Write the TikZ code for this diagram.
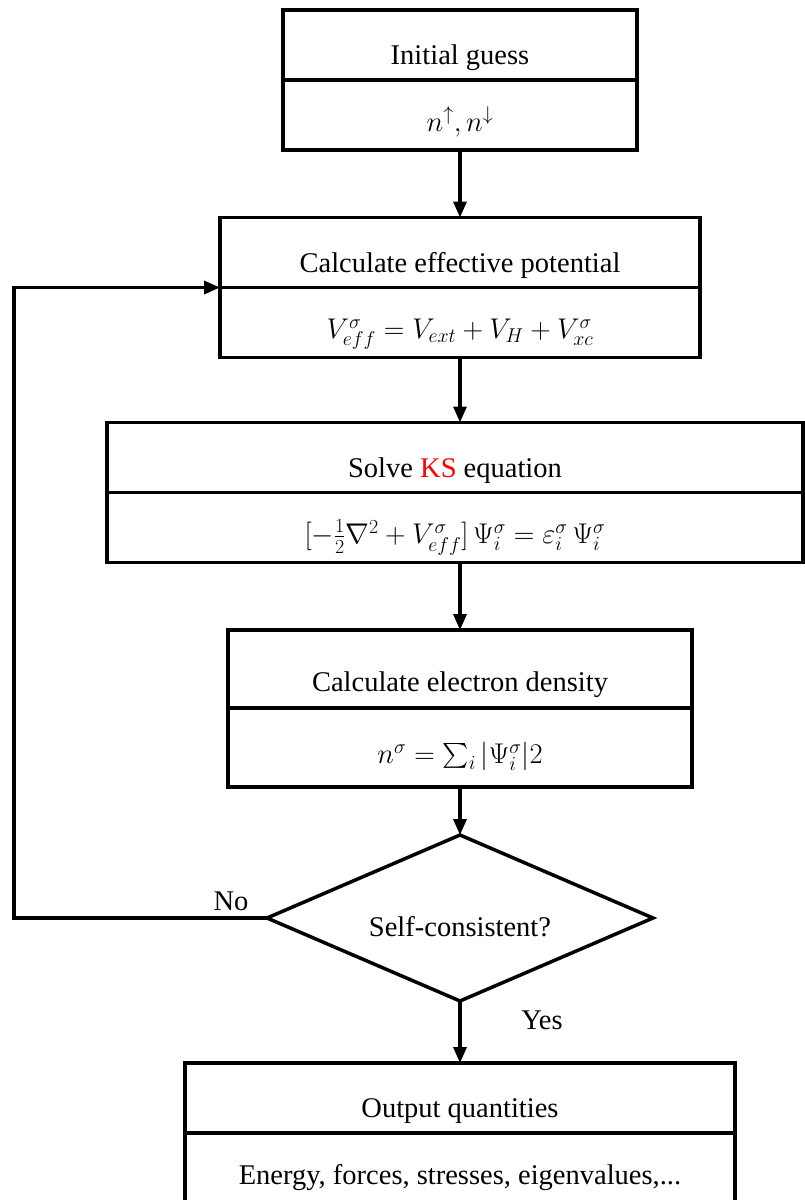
\RequirePackage{fix-cm}
\documentclass[tikz,border=0pt]{standalone}
\usepackage{amsmath}
\usepackage{fontspec}
\setmainfont{Liberation Serif}
\usepackage{xcolor}
\usetikzlibrary{arrows.meta,positioning,shapes.geometric}
\tikzset{
  flowarrow/.style={-{Triangle[length=16pt,width=13pt]}, line width=3.5pt, draw=black},
  headbox/.style={draw=black, line width=3.5pt, fill=white, align=center,
    inner sep=0pt, outer sep=0pt, minimum height=70pt,
    text height=45pt, text depth=6pt},
  bodybox/.style={draw=black, line width=3.5pt, fill=white, align=center,
    inner sep=0pt, outer sep=0pt, minimum height=70pt,
    text height=40pt, text depth=8pt},
  checkbox/.style={draw=black, line width=3.5pt, diamond, inner sep=0pt,
    outer sep=0pt, minimum width=386pt, minimum height=166pt},
  smallnote/.style={inner sep=1pt}
}
\begin{document}
\begin{tikzpicture}[x=1pt, y=-1pt, font=\fontsize{28.5}{34}\selectfont]
  \useasboundingbox (0,0) rectangle (805,1200);
  % initial guess
  \node[headbox, minimum width=354pt] (init) at (460,45) {Initial guess};
  \node[bodybox, minimum width=354pt, below=0pt of init] (initv) {$n^{\uparrow}, n^{\downarrow}$};
  % effective potential
  \node[headbox, minimum width=480pt] (pot) at (460,252.5) {Calculate effective potential};
  \node[bodybox, minimum width=480pt, below=0pt of pot] (potv) {$V^{\sigma}_{eff} = V_{ext} + V_{H} + V^{\sigma}_{xc}$};
  % Kohn-Sham equation
  \node[headbox, minimum width=696pt] (ks) at (455,457.5) {Solve \textcolor{red}{KS} equation};
  \node[bodybox, minimum width=696pt, below=0pt of ks] (ksv) {$[-\frac{1}{2}\nabla^{2} + V^{\sigma}_{eff}]\,\Psi^{\sigma}_{i} = \varepsilon^{\sigma}_{i}\,\Psi^{\sigma}_{i}$};
  % electron density
  \node[headbox, minimum width=464pt, minimum height=78pt, text height=50pt] (dens) at (460,669) {Calculate electron density};
  \node[bodybox, minimum width=464pt, minimum height=79pt, below=0pt of dens] (densv) {$n^{\sigma} = \sum_{i}|\Psi^{\sigma}_{i}|2$};
  % convergence test
  \node[checkbox, label={[yshift=-9pt]center:Self-consistent?}] (sc) at (460,918) {};
  % output
  \node[headbox, minimum width=550pt] (out) at (460,1098) {Output quantities};
  \node[bodybox, minimum width=550pt, below=0pt of out] (outv) {Energy, forces, stresses, eigenvalues,...};
  \coordinate (loop) at (14,918);

  \draw[flowarrow] (initv) -- (pot);
  \draw[flowarrow] (potv) -- (potv |- ks.north);
  \draw[flowarrow] (ksv.south -| densv) -- (dens);
  \draw[flowarrow] (densv) -- (sc);
  \draw[flowarrow] (sc) -- (out);
  \draw[flowarrow] (sc.west) -- (loop) |- (pot.south west);

  \node[smallnote] (no) at (231,901) {No};
  \node[smallnote] (yes) at (542,1020) {Yes};
\end{tikzpicture}
\end{document}
